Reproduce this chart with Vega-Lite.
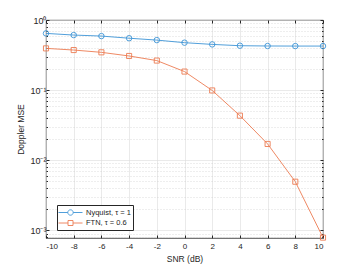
{
  "$schema": "https://vega.github.io/schema/vega-lite/v6.json",
  "width": 277,
  "height": 218,
  "autosize": {"type": "none"},
  "padding": {"left": 46, "top": 20, "right": 34, "bottom": 30},
  "background": "white",
  "config": {
    "view": {"stroke": "#262626", "strokeWidth": 0.8},
    "font": "Liberation Sans",
    "axis": {
      "labelFont": "Liberation Sans",
      "titleFont": "Liberation Sans",
      "labelFontSize": 8,
      "titleFontSize": 8.5,
      "titleFontWeight": "normal",
      "labelColor": "#262626",
      "titleColor": "#262626",
      "domainColor": "#262626",
      "tickColor": "#262626",
      "gridColor": "#dcdcdc",
      "gridWidth": 0.6
    }
  },
  "data": {
    "values": [
      {"snr": -10, "mse": 0.644, "series": "Nyquist, τ = 1"},
      {"snr": -8, "mse": 0.61, "series": "Nyquist, τ = 1"},
      {"snr": -6, "mse": 0.59, "series": "Nyquist, τ = 1"},
      {"snr": -4, "mse": 0.55, "series": "Nyquist, τ = 1"},
      {"snr": -2, "mse": 0.517, "series": "Nyquist, τ = 1"},
      {"snr": 0, "mse": 0.475, "series": "Nyquist, τ = 1"},
      {"snr": 2, "mse": 0.449, "series": "Nyquist, τ = 1"},
      {"snr": 4, "mse": 0.43, "series": "Nyquist, τ = 1"},
      {"snr": 6, "mse": 0.426, "series": "Nyquist, τ = 1"},
      {"snr": 8, "mse": 0.425, "series": "Nyquist, τ = 1"},
      {"snr": 10, "mse": 0.425, "series": "Nyquist, τ = 1"},
      {"snr": -10, "mse": 0.394, "series": "FTN, τ = 0.6"},
      {"snr": -8, "mse": 0.373, "series": "FTN, τ = 0.6"},
      {"snr": -6, "mse": 0.346, "series": "FTN, τ = 0.6"},
      {"snr": -4, "mse": 0.307, "series": "FTN, τ = 0.6"},
      {"snr": -2, "mse": 0.264, "series": "FTN, τ = 0.6"},
      {"snr": 0, "mse": 0.184, "series": "FTN, τ = 0.6"},
      {"snr": 2, "mse": 0.099, "series": "FTN, τ = 0.6"},
      {"snr": 4, "mse": 0.0433, "series": "FTN, τ = 0.6"},
      {"snr": 6, "mse": 0.0171, "series": "FTN, τ = 0.6"},
      {"snr": 8, "mse": 0.00495, "series": "FTN, τ = 0.6"},
      {"snr": 10, "mse": 0.00079, "series": "FTN, τ = 0.6"}
    ]
  },
  "encoding": {
    "x": {
      "field": "snr", "type": "quantitative",
      "scale": {"domain": [-10, 10], "nice": false, "zero": false},
      "axis": {
        "values": [-10, -8, -6, -4, -2, 0, 2, 4, 6, 8, 10],
        "labelExpr": "toString(datum.value)",
        "title": "SNR (dB)", "titlePadding": 4,
        "tickSize": -3, "labelPadding": 7, "grid": true, "domain": false
      }
    },
    "y": {
      "field": "mse", "type": "quantitative",
      "scale": {"type": "log", "domain": [0.00078, 1], "nice": false},
      "axis": {
        "values": [0.0008, 0.0009, 0.001, 0.002, 0.003, 0.004, 0.005, 0.006, 0.007, 0.008, 0.009, 0.01, 0.02, 0.03, 0.04, 0.05, 0.06, 0.07, 0.08, 0.09, 0.1, 0.2, 0.3, 0.4, 0.5, 0.6, 0.7, 0.8, 0.9, 1],
        "labelExpr": "datum.value == 1 ? '10⁰' : datum.value == 0.1 ? '10⁻¹' : datum.value == 0.01 ? '10⁻²' : datum.value == 0.001 ? '10⁻³' : ''",
        "labelFontSize": 9,
        "title": "Doppler MSE", "titlePadding": 4,
        "grid": true, "domain": false, "labelPadding": 3,
        "gridDash": {"condition": {"test": "indexof([1,0.1,0.01,0.001], datum.value) >= 0", "value": []}, "value": [1, 2]},
        "gridColor": {"condition": {"test": "indexof([1,0.1,0.01,0.001], datum.value) >= 0", "value": "#dcdcdc"}, "value": "#c8c8c8"},
        "tickSize": {"condition": {"test": "indexof([1,0.1,0.01,0.001], datum.value) >= 0", "value": -3}, "value": -1.5}
      }
    },
    "color": {
      "field": "series", "type": "nominal",
      "scale": {"domain": ["Nyquist, τ = 1", "FTN, τ = 0.6"], "range": ["#3d94d6", "#ec7c52"]},
      "legend": {
        "title": null,
        "orient": "none",
        "legendX": 11,
        "legendY": 185,
        "fillColor": "white",
        "strokeColor": "#262626",
        "padding": 2,
        "rowPadding": 0.5,
        "labelFont": "Liberation Sans",
        "labelFontSize": 7.5,
        "labelColor": "#262626",
        "labelOffset": 10,
        "symbolOffset": 6,
        "symbolSize": 100,
        "symbolStrokeWidth": 0.9,
        "symbolFillColor": "transparent"
      }
    }
  },
  "resolve": {"axis": {"x": "independent", "y": "independent"}},
  "layer": [
    {
      "mark": {"type": "line", "strokeWidth": 0.9}
    },
    {
      "transform": [{"filter": "datum.series == 'Nyquist, τ = 1'"}],
      "mark": {"type": "point", "shape": "circle", "filled": false, "strokeWidth": 0.9, "size": 30, "opacity": 1},
      "encoding": {
        "x": {"field": "snr", "type": "quantitative", "axis": {"orient": "top", "values": [-10, -8, -6, -4, -2, 0, 2, 4, 6, 8, 10], "labels": false, "title": null, "grid": false, "domain": false, "tickSize": -3}},
        "y": {"field": "mse", "type": "quantitative", "axis": {"orient": "right", "values": [0.0008, 0.0009, 0.001, 0.002, 0.003, 0.004, 0.005, 0.006, 0.007, 0.008, 0.009, 0.01, 0.02, 0.03, 0.04, 0.05, 0.06, 0.07, 0.08, 0.09, 0.1, 0.2, 0.3, 0.4, 0.5, 0.6, 0.7, 0.8, 0.9, 1], "labels": false, "title": null, "grid": false, "domain": false,
          "tickSize": {"condition": {"test": "indexof([1,0.1,0.01,0.001], datum.value) >= 0", "value": -3}, "value": -1.5}}}
      }
    },
    {
      "transform": [{"filter": "datum.series == 'FTN, τ = 0.6'"}],
      "mark": {"type": "point", "shape": "square", "filled": false, "strokeWidth": 0.9, "size": 26, "opacity": 1},
      "encoding": {
        "x": {"field": "snr", "type": "quantitative", "axis": null},
        "y": {"field": "mse", "type": "quantitative", "axis": null}
      }
    },
    {
      "mark": {"type": "point", "filled": false, "strokeWidth": 0.9, "size": 0, "opacity": 1},
      "encoding": {
        "x": {"field": "snr", "type": "quantitative", "axis": null},
        "y": {"field": "mse", "type": "quantitative", "axis": null},
        "shape": {
          "field": "series", "type": "nominal",
          "scale": {
            "domain": ["Nyquist, τ = 1", "FTN, τ = 0.6"],
            "range": [
              "M-2.4,0L-0.54,0M0.54,0L2.4,0M-0.54,0A0.54,0.54 0 1,1 0.54,0A0.54,0.54 0 1,1 -0.54,0Z",
              "M-2.4,0L-0.5,0M0.5,0L2.4,0M-0.5,-0.5L0.5,-0.5L0.5,0.5L-0.5,0.5Z"
            ]
          }
        }
      }
    }
  ]
}
